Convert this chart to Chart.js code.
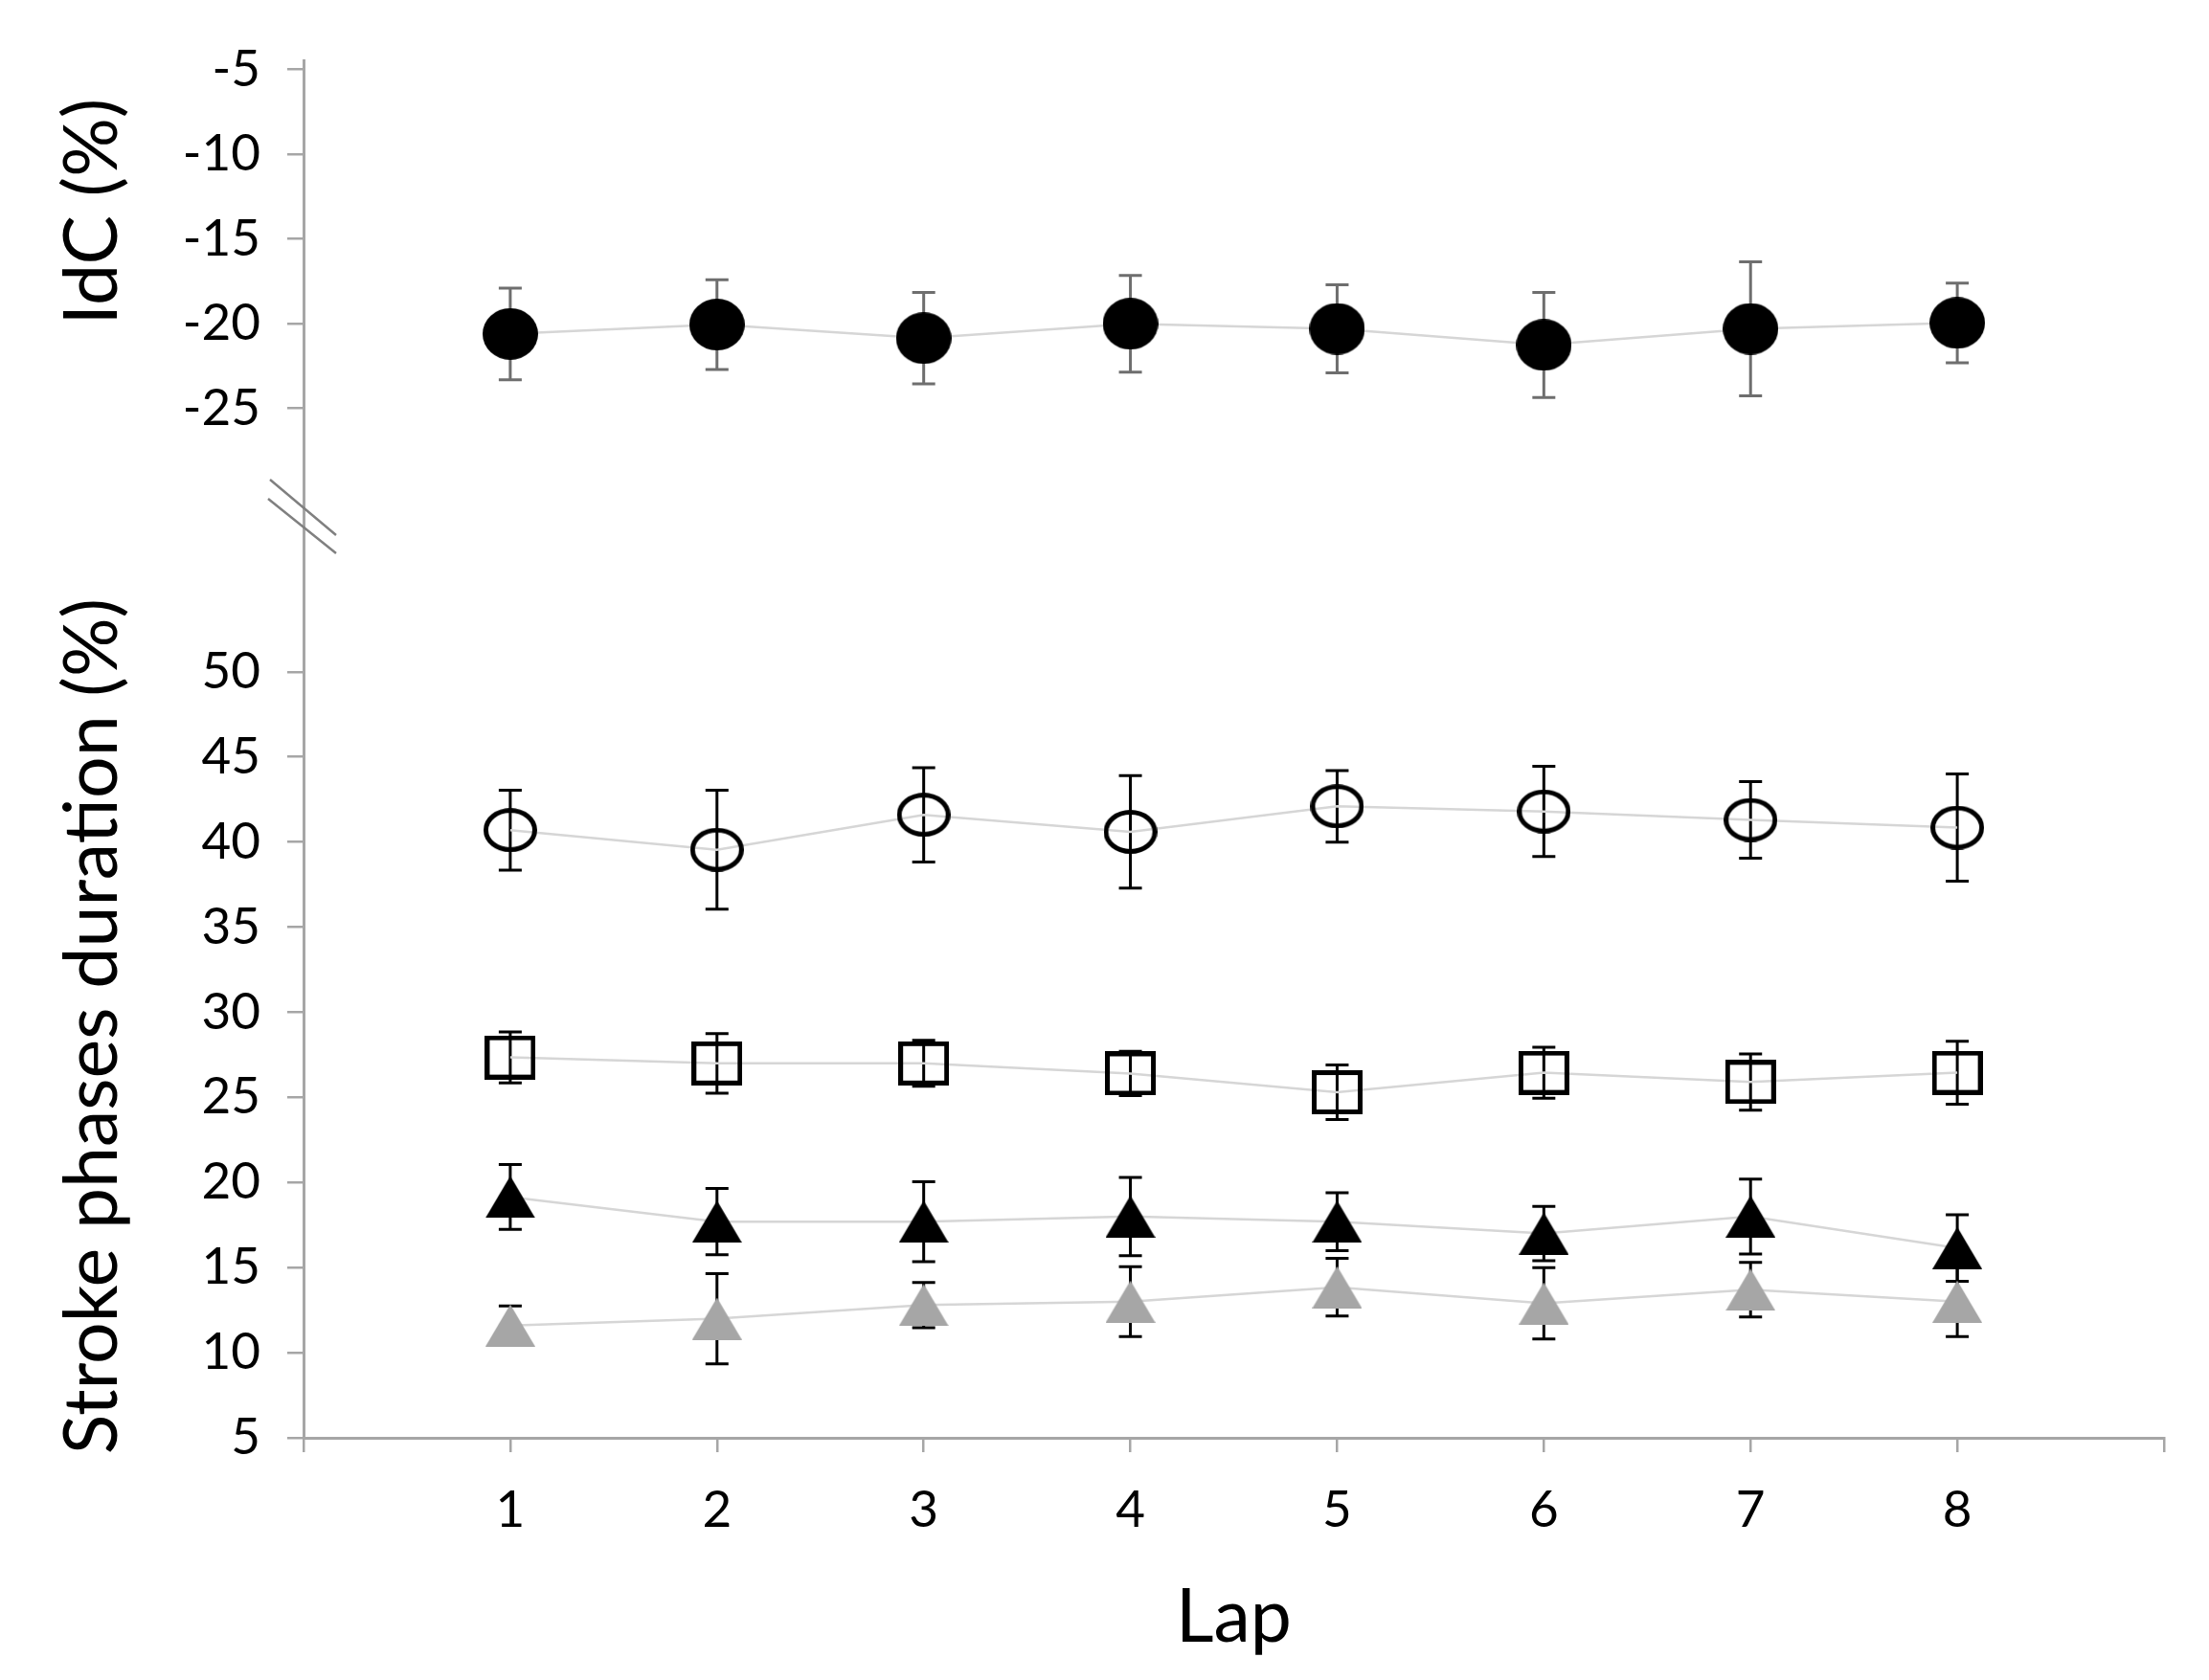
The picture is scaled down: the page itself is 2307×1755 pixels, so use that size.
<!DOCTYPE html>
<html>
<head>
<meta charset="utf-8">
<title>IdC and stroke phases duration per lap</title>
<script src="https://cdn.jsdelivr.net/npm/chart.js@4.4.1/dist/chart.umd.min.js"></script>
<style>
  html, body { margin: 0; padding: 0; background: #fff; }
  #wrap { width: 2307px; height: 1755px; }
</style>
</head>
<body>
<div id="wrap"><canvas id="chart" width="2307" height="1755"></canvas></div>
<script>
// === values (mean and SD per lap) ===
const laps = [1, 2, 3, 4, 5, 6, 7, 8];
const idcTicks = [-25, -20, -15, -10, -5];
const phaseTicks = [5, 10, 15, 20, 25, 30, 35, 40, 45, 50];

const idc = [-20.6, -20.05, -20.85, -20.0, -20.3, -21.25, -20.3, -19.95];
const idcSd = [2.7, 2.65, 2.7, 2.85, 2.6, 3.1, 3.95, 2.35];

const circleOpen = [40.7, 39.55, 41.6, 40.6, 42.1, 41.8, 41.3, 40.85];
const circleOpenSd = [2.35, 3.5, 2.77, 3.3, 2.1, 2.65, 2.25, 3.15];

const squareOpen = [27.35, 27.0, 27.0, 26.4, 25.3, 26.45, 25.9, 26.45];
const squareOpenSd = [1.5, 1.75, 1.35, 1.3, 1.6, 1.5, 1.65, 1.85];

const triBlack = [19.15, 17.7, 17.7, 18.0, 17.7, 17.0, 18.0, 16.15];
const triBlackSd = [1.9, 1.95, 2.35, 2.3, 1.7, 1.6, 2.2, 1.95];

const triGray = [11.6, 12.0, 12.8, 13.0, 13.85, 12.9, 13.7, 13.0];
const triGraySd = [1.15, 2.65, 1.33, 2.05, 1.7, 2.1, 1.6, 2.05];

// === look ===
const FONT = 'Lato, "Open Sans", sans-serif';
const AXIS_GREY = '#a6a6a6';
const LINE_GREY = '#d6d6d6';

function marker(w, h, paint) {
    const c = document.createElement('canvas');
    c.width = w;
    c.height = h;
    paint(c.getContext('2d'), w, h);
    return c;
}

const dotBlack = marker(58, 54, (g, w, h) => {
    g.fillStyle = '#000';
    g.beginPath();
    g.ellipse(w / 2, h / 2, w / 2, h / 2, 0, 0, 2 * Math.PI);
    g.fill();
});
const ring = marker(56, 46, (g, w, h) => {
    g.strokeStyle = '#000';
    g.lineWidth = 5;
    g.beginPath();
    g.ellipse(w / 2, h / 2, w / 2 - 2.5, h / 2 - 2.5, 0, 0, 2 * Math.PI);
    g.stroke();
});
const box = marker(53, 46, (g, w, h) => {
    g.strokeStyle = '#000';
    g.lineWidth = 5;
    g.strokeRect(2.5, 2.5, w - 5, h - 5);
});
function triangle(color) {
    return marker(52, 44, (g, w, h) => {
        g.fillStyle = color;
        g.beginPath();
        g.moveTo(w / 2, 0);
        g.lineTo(w, h);
        g.lineTo(0, h);
        g.closePath();
        g.fill();
    });
}

function series(label, values, sd, axis, style, barColor) {
    return {
        label: label,
        data: laps.map((lap, i) => ({ x: lap, y: values[i] })),
        errors: sd,
        errorColor: barColor,
        yAxisID: axis,
        borderColor: LINE_GREY,
        borderWidth: 2.5,
        pointStyle: style,
        pointRadius: 25,
        pointHoverRadius: 25,
        tension: 0
    };
}

// error bars are drawn under the markers
const errorBars = {
    id: 'errorBars',
    beforeDatasetsDraw(chart) {
        const ctx = chart.ctx;
        chart.data.datasets.forEach((ds, i) => {
            const meta = chart.getDatasetMeta(i);
            const yScale = chart.scales[ds.yAxisID];
            ctx.save();
            ctx.strokeStyle = ds.errorColor;
            ctx.lineWidth = 3;
            meta.data.forEach((pt, j) => {
                const v = ds.data[j].y;
                const e = ds.errors[j];
                const hi = yScale.getPixelForValue(v + e);
                const lo = yScale.getPixelForValue(v - e);
                ctx.beginPath();
                ctx.moveTo(pt.x, hi);
                ctx.lineTo(pt.x, lo);
                ctx.moveTo(pt.x - 12, hi);
                ctx.lineTo(pt.x + 12, hi);
                ctx.moveTo(pt.x - 12, lo);
                ctx.lineTo(pt.x + 12, lo);
                ctx.stroke();
            });
            ctx.restore();
        });
    }
};

// axis break slashes + the two y titles
const axisDecor = {
    id: 'axisDecor',
    afterDraw(chart) {
        const ctx = chart.ctx;
        const yb = chart.scales.yBot;
        const ax = yb.right;
        const ay = yb.top;
        ctx.save();
        ctx.strokeStyle = '#808080';
        ctx.lineWidth = 2.5;
        ctx.beginPath();
        ctx.moveTo(ax - 35, ay - 39);
        ctx.lineTo(ax + 34, ay + 19);
        ctx.moveTo(ax - 37, ay - 19);
        ctx.lineTo(ax + 34, ay + 38);
        ctx.stroke();

        ctx.fillStyle = '#000';
        ctx.font = '77px ' + FONT;
        ctx.textAlign = 'center';
        ctx.textBaseline = 'alphabetic';
        [['IdC (%)', 221], ['Stroke phases duration (%)', 1072]].forEach(([text, cy]) => {
            ctx.save();
            ctx.translate(122, cy);
            ctx.rotate(-Math.PI / 2);
            ctx.fillText(text, 0, 0);
            ctx.restore();
        });
        ctx.restore();
    }
};

function yAxis(min, max, weight, tickValues) {
    return {
        type: 'linear',
        position: 'left',
        stack: 'left',
        stackWeight: weight,
        min: min,
        max: max,
        afterBuildTicks: s => { s.ticks = tickValues.map(value => ({ value })); },
        afterFit: s => { s.width = 317; },
        ticks: {
            autoSkip: false,
            color: '#000',
            font: { size: 53, family: FONT },
            padding: 28,
            callback: v => String(v)
        },
        grid: { drawOnChartArea: false, tickLength: 17, color: AXIS_GREY, lineWidth: 2.5 },
        border: { display: true, color: AXIS_GREY, width: 3 }
    };
}

function draw() {
    new Chart(document.getElementById('chart'), {
        type: 'line',
        data: {
            datasets: [
                series('IdC', idc, idcSd, 'yTop', dotBlack, '#6e6e6e'),
                series('Phase (open circle)', circleOpen, circleOpenSd, 'yBot', ring, '#000'),
                series('Phase (open square)', squareOpen, squareOpenSd, 'yBot', box, '#000'),
                series('Phase (black triangle)', triBlack, triBlackSd, 'yBot', triangle('#000'), '#000'),
                series('Phase (grey triangle)', triGray, triGraySd, 'yBot', triangle('#a6a6a6'), '#000')
            ]
        },
        options: {
            responsive: false,
            devicePixelRatio: 1,
            animation: false,
            layout: { padding: { top: 63, right: 47, bottom: 0, left: 0 } },
            plugins: { legend: { display: false }, tooltip: { enabled: false } },
            scales: {
                x: {
                    type: 'linear',
                    min: 0,
                    max: laps.length + 1,
                    afterBuildTicks: s => { s.ticks = [0, ...laps, laps.length + 1].map(value => ({ value })); },
                    afterFit: s => { s.height = 253; },
                    ticks: {
                        autoSkip: false,
                        maxRotation: 0,
                        color: '#000',
                        font: { size: 53, family: FONT },
                        padding: 29,
                        callback: v => laps.includes(v) ? String(v) : ''
                    },
                    grid: { drawOnChartArea: false, tickLength: 15, color: AXIS_GREY, lineWidth: 2.5 },
                    border: { display: true, color: AXIS_GREY, width: 3 },
                    title: {
                        display: true,
                        text: 'Lap',
                        color: '#000',
                        font: { size: 77, family: FONT },
                        padding: { top: 0, bottom: 19 }
                    }
                },
                // left stack is laid out in reverse order: the last one defined sits on top
                yBot: yAxis(5, 59.1, 962, phaseTicks),
                yTop: yAxis(-31.4, -4.45, 477, idcTicks)
            }
        },
        plugins: [errorBars, axisDecor]
    });
}

Promise.all([
    document.fonts.load('53px Lato'),
    document.fonts.load('77px Lato')
]).then(draw, draw);
</script>
</body>
</html>
